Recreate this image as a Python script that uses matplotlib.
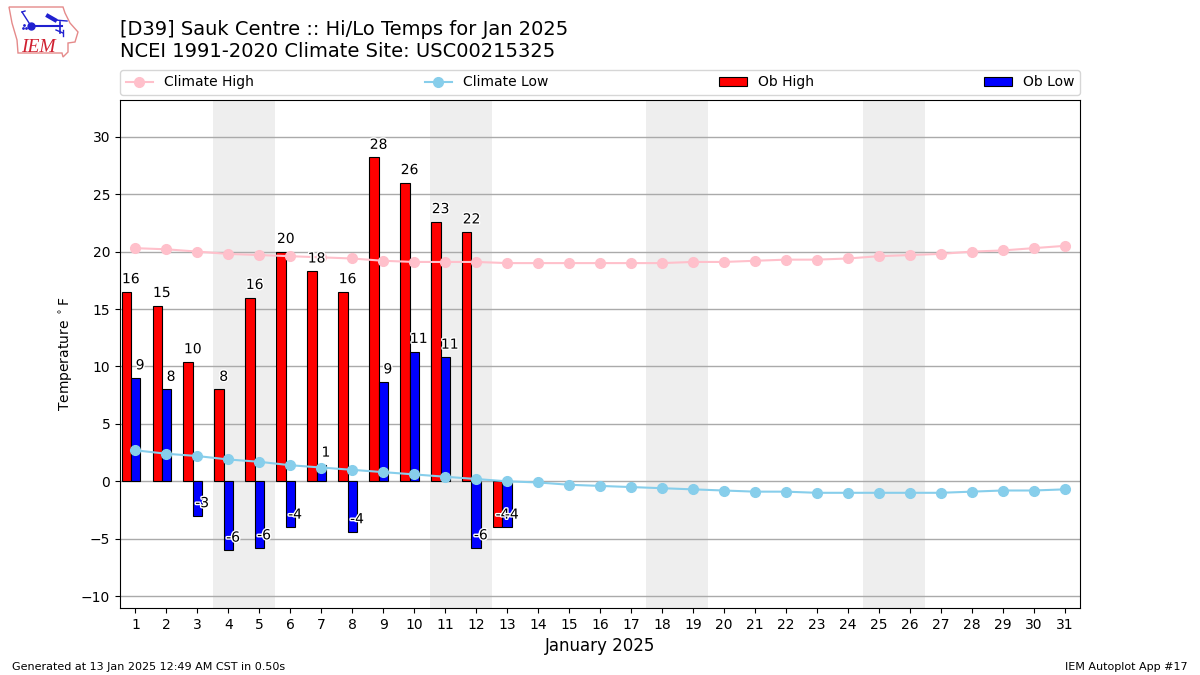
import matplotlib
matplotlib.use("Agg")
import matplotlib.pyplot as plt
import matplotlib.patheffects as pe
from matplotlib.lines import Line2D
from matplotlib.patches import Polygon

days = list(range(1, 32))
climate_high = [20.3, 20.2, 20.0, 19.8, 19.7, 19.6, 19.5, 19.4, 19.2, 19.1, 19.1, 19.1, 19.0, 19.0, 19.0, 19.0,
                19.0, 19.0, 19.1, 19.1, 19.2, 19.3, 19.3, 19.4, 19.6, 19.7, 19.8, 20.0, 20.1, 20.3, 20.5]
climate_low = [2.7, 2.4, 2.2, 1.9, 1.7, 1.4, 1.2, 1.0, 0.8, 0.6, 0.4, 0.2, 0.0, -0.1, -0.3, -0.4,
               -0.5, -0.6, -0.7, -0.8, -0.9, -0.9, -1.0, -1.0, -1.0, -1.0, -1.0, -0.9, -0.8, -0.8, -0.7]
ob_days = list(range(1, 14))
ob_high = [16.5, 15.3, 10.4, 8.0, 16.0, 20.0, 18.3, 16.5, 28.2, 26.0, 22.6, 21.7, -4.0]
ob_low = [9.0, 8.0, -3.0, -6.0, -5.8, -4.0, 1.4, -4.4, 8.65, 11.3, 10.8, -5.8, -4.0]
high_labels = ["16", "15", "10", "8", "16", "20", "18", "16", "28", "26", "23", "22", "-4"]
low_labels = ["9", "8", "-3", "-6", "-6", "-4", "1", "-4", "9", "11", "11", "-6", "-4"]
weekend_starts = [4, 11, 18, 25]

fig = plt.figure(figsize=(12, 6.75), dpi=100)
ax = fig.add_axes([120 / 1200, 1 - 608 / 675, 960 / 1200, 508 / 675])

for d in weekend_starts:
    ax.axvspan(d - 0.5, d + 1.5, color="#eeeeee", lw=0, zorder=0)
ax.yaxis.grid(True, color="#aaaaaa", lw=1.0, zorder=1)
ax.set_axisbelow(True)

w = 0.3
ax.bar([d - w for d in ob_days], ob_high, width=w,
       color="red", edgecolor="black", lw=0.8, label="Ob High", zorder=2)
ax.bar(ob_days, ob_low, width=w, color="blue", edgecolor="black", lw=0.8, label="Ob Low", zorder=2)
ax.plot(days, climate_high, color="pink", marker="o", ms=7, lw=1.5, label="Climate High", zorder=3)
ax.plot(days, climate_low, color="skyblue", marker="o", ms=7, lw=1.5, label="Climate Low", zorder=3)

halo = [pe.withStroke(linewidth=2, foreground="white")]
for d, v, s in zip(ob_days, ob_high, high_labels):
    ax.text(d - 0.15, v + 0.75, s, ha="center", va="baseline", fontsize=10, path_effects=halo, zorder=4)
for d, v, s in zip(ob_days, ob_low, low_labels):
    ax.text(d + 0.15, v + 0.75, s, ha="center", va="baseline", fontsize=10, path_effects=halo, zorder=4)

ax.set_xlim(0.5, 31.5)
ax.set_ylim(-11.03, 33.2)
ax.set_xticks(days)
ax.set_yticks(range(-10, 31, 5))
ax.tick_params(labelsize=10)
ax.set_xlabel("January 2025", fontsize=12)
ax.set_ylabel(r"Temperature $^\circ$F", fontsize=10)

handles, labels = ax.get_legend_handles_labels()
order = ["Climate High", "Climate Low", "Ob High", "Ob Low"]
by = dict(zip(labels, handles))
ax.legend([by[k] for k in order], order, ncol=4, mode="expand", loc="lower left",
          bbox_to_anchor=(0, 1.0, 1, 0.05), borderaxespad=0, fontsize=10,
          bbox_transform=ax.transAxes)
ax.get_legend().set_bbox_to_anchor((0, 1 + 5 / 508, 1, 0.05), transform=ax.transAxes)

fig.text(120 / 1200, 1 - 35 / 675, "[D39] Sauk Centre :: Hi/Lo Temps for Jan 2025", fontsize=14, va="baseline")
fig.text(120 / 1200, 1 - 57 / 675, "NCEI 1991-2020 Climate Site: USC00215325", fontsize=14, va="baseline")
fig.text(12 / 1200, 1 - 670 / 675, "Generated at 13 Jan 2025 12:49 AM CST in 0.50s", fontsize=8, va="baseline")
fig.text(1188 / 1200, 1 - 670 / 675, "IEM Autoplot App #17", fontsize=8, ha="right", va="baseline")


def px(pts):
    return [(x / 1200, 1 - y / 675) for x, y in pts]


outline = [(9, 7), (63, 7), (65, 13), (70, 23), (78, 32), (75, 42), (68, 43), (68, 52), (63, 57), (62, 53),
           (18, 53), (17, 40), (12, 23)]
fig.add_artist(Polygon(px(outline), closed=True, fill=False, edgecolor="#e58a8a", lw=1, transform=fig.transFigure))
segments = [([(31, 26), (62, 26)], 1.5), ([(31, 26), (22, 12)], 1), ([(22, 12), (25, 11)], 1),
            ([(48, 16), (55, 20)], 3), ([(55, 20), (67, 21)], 1), ([(60, 22), (60, 33)], 1.2),
            ([(56, 30), (63, 33)], 1), ([(63, 30), (63, 36)], 1)]
for seg, lw in segments:
    fig.add_artist(Line2D(*zip(*px(seg)), color="#2020d0", lw=lw, transform=fig.transFigure))
fig.add_artist(Line2D(*zip(*px([(31, 26)])), color="#2020d0", marker="o", ms=5, transform=fig.transFigure))
fig.add_artist(Line2D(*zip(*px([(23, 28), (26, 28), (24, 25)])), color="#2020d0", marker=".", ms=2, ls="none",
                      transform=fig.transFigure))
fig.text(21 / 1200, 1 - 52 / 675, "IEM", color="#d02030", fontsize=14, family="Liberation Serif", style="italic",
         va="baseline")

fig.savefig("out.png", dpi=100)
